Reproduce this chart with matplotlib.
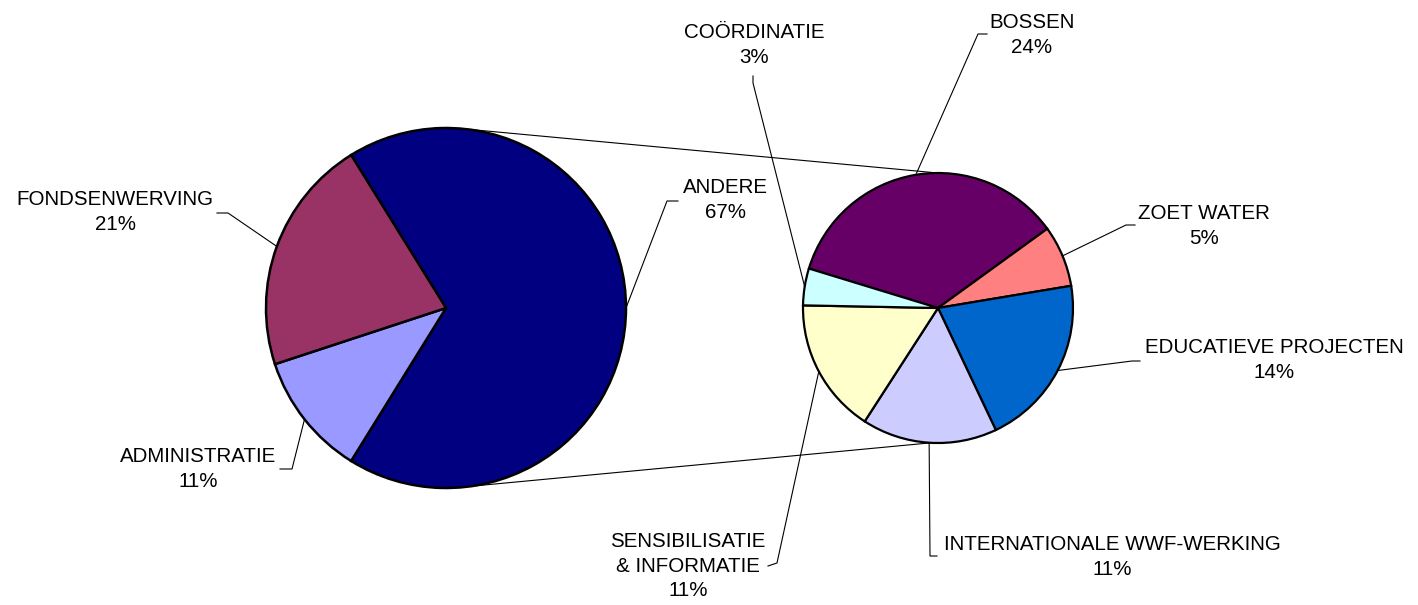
import numpy as np
import matplotlib
matplotlib.use('Agg')
import matplotlib.pyplot as plt

plt.rcParams['font.family'] = ['Liberation Sans', 'DejaVu Sans']

# linker taart: hoofdverdeling (volgorde met de klok mee vanaf ANDERE)
main_labels = ['ANDERE', 'ADMINISTRATIE', 'FONDSENWERVING']
main_values = [67, 11, 21]
main_colors = ['#000080', '#9999FF', '#993366']

# rechter taart: opsplitsing van ANDERE
sub_labels = ['BOSSEN', 'ZOET WATER', 'EDUCATIEVE PROJECTEN',
              'INTERNATIONALE WWF-WERKING', 'SENSIBILISATIE\n& INFORMATIE',
              'COÖRDINATIE']
sub_values = [24, 5, 14, 11, 11, 3]
sub_colors = ['#660066', '#FF8080', '#0066CC', '#CCCCFF', '#FFFFCC', '#CCFFFF']

W, H = 1418, 605
fig = plt.figure(figsize=(W / 100, H / 100), dpi=100)
ax = fig.add_axes([0, 0, 1, 1])
ax.set_xlim(0, W)
ax.set_ylim(0, H)
ax.set_aspect('equal')
ax.axis('off')

c1, r1 = (446, H - 308), 180
c2, r2 = (938, H - 308), 135

start1 = 360 * main_values[0] / sum(main_values) / 2
w1, _ = ax.pie(main_values, colors=main_colors, center=c1, radius=r1,
               startangle=start1, counterclock=False,
               wedgeprops=dict(edgecolor='black', linewidth=1.8))
w2, _ = ax.pie(sub_values, colors=sub_colors, center=c2, radius=r2,
               startangle=163, counterclock=False,
               wedgeprops=dict(edgecolor='black', linewidth=1.6))
ax.set_xlim(0, W)
ax.set_ylim(0, H)

# verbindingslijnen tussen de twee taarten
for a1, a2 in [(85, 90), (-82, -93)]:
    p1 = (c1[0] + r1 * np.cos(np.radians(a1)), c1[1] + r1 * np.sin(np.radians(a1)))
    p2 = (c2[0] + r2 * np.cos(np.radians(a2)), c2[1] + r2 * np.sin(np.radians(a2)))
    ax.plot([p1[0], p2[0]], [p1[1], p2[1]], color='black', lw=0.8, zorder=0)

# label posities (pixels): tekstmidden, knik, einde
main_layout = [((725, 200), (667, 201), (678, 201)),
               ((198, 469), (292, 469), (280, 469)),
               ((115, 212), (228, 213), (217, 213))]
sub_layout = [((1032, 35), (978, 34), (987, 34)),
              ((1204, 226), (1126, 225), (1135, 225)),
              ((1274, 360), (1132, 361), (1140, 361)),
              ((1112, 557), (930, 556), (937, 556)),
              ((688, 566), (777, 563), (768, 566)),
              ((754, 45), (753, 83), (753, 76))]


def add_labels(wedges, labels, values, layout, center, r):
    for w, lab, v, (txt, knee, end) in zip(wedges, labels, values, layout):
        mid = np.radians((w.theta1 + w.theta2) / 2)
        rim = (center[0] + r * np.cos(mid), center[1] + r * np.sin(mid))
        xs = [rim[0], knee[0], end[0]]
        ys = [rim[1], H - knee[1], H - end[1]]
        ax.plot(xs, ys, color='black', lw=0.8, zorder=3)
        ax.text(txt[0], H - txt[1], f'{lab}\n{v}%', ha='center', va='center',
                multialignment='center', fontsize=14.8, linespacing=1.35)


add_labels(w1, main_labels, main_values, main_layout, c1, r1)
add_labels(w2, sub_labels, sub_values, sub_layout, c2, r2)

fig.savefig('out.png', dpi=100, facecolor='white')
